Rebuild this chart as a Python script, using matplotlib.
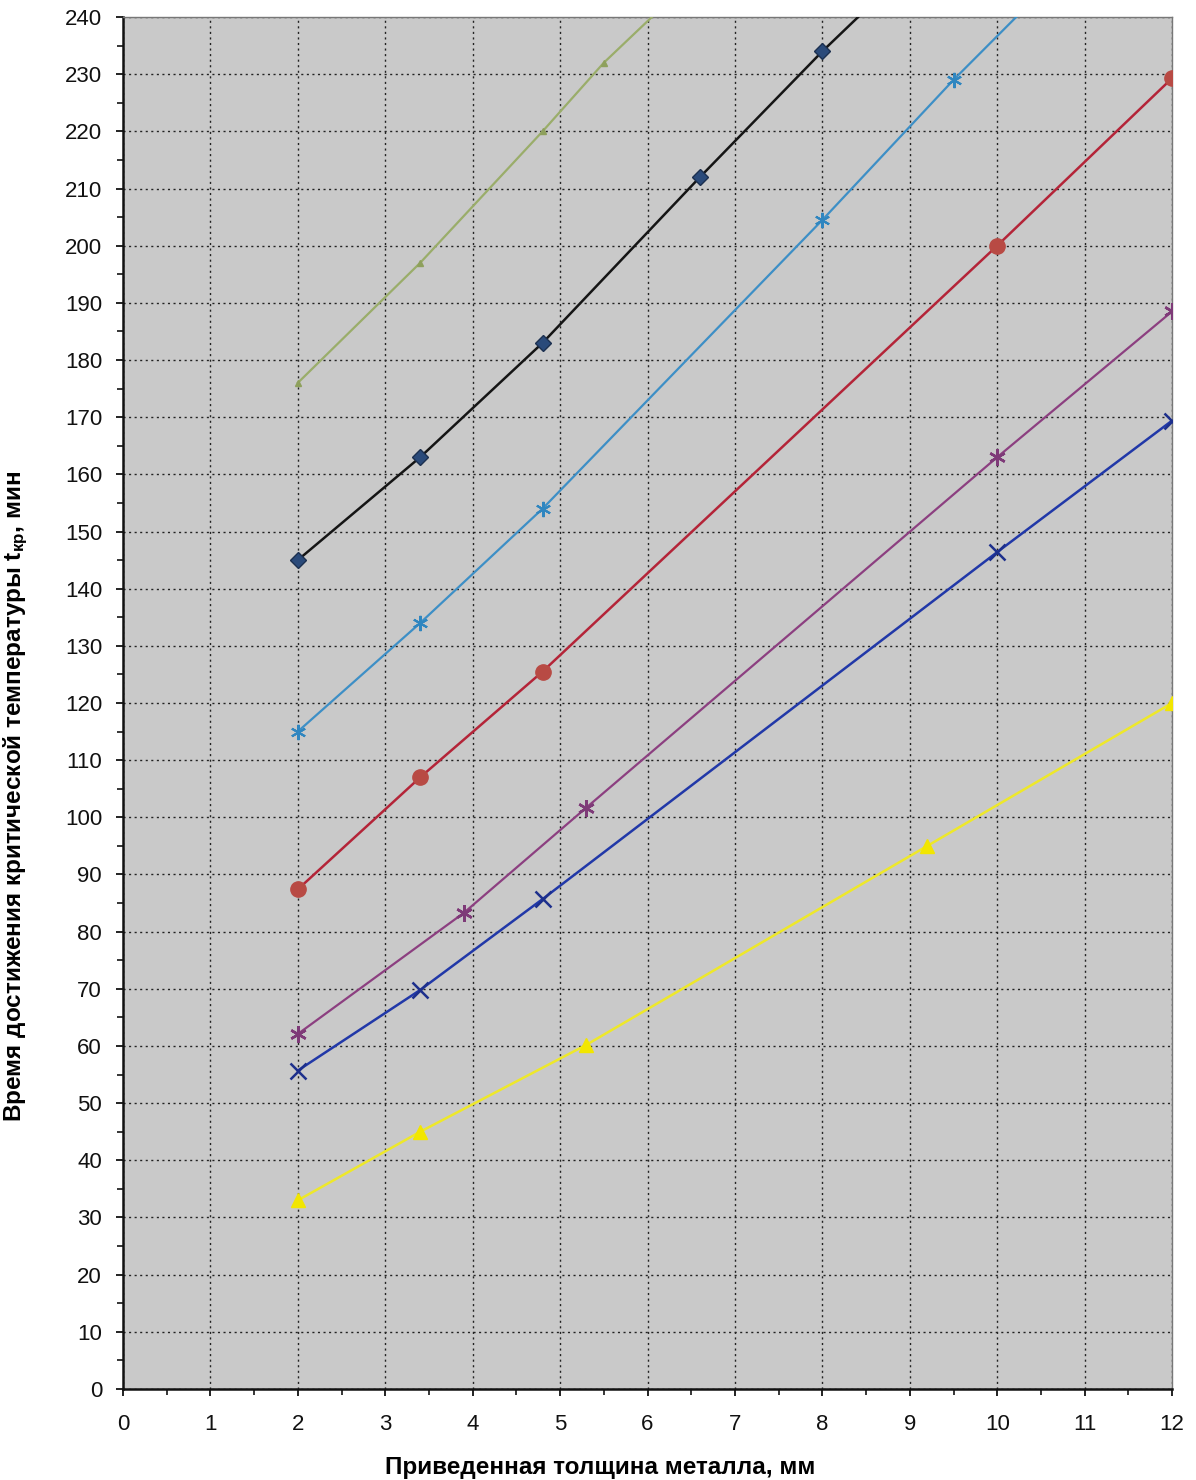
import matplotlib
matplotlib.use("Agg")
import matplotlib.pyplot as plt
from matplotlib.ticker import MultipleLocator

plt.rcParams['font.family'] = ['Liberation Sans', 'DejaVu Sans']
plt.rcParams['mathtext.fontset'] = 'custom'
plt.rcParams['mathtext.rm'] = 'Liberation Sans:bold'
plt.rcParams['mathtext.bf'] = 'Liberation Sans:bold'

# ---- data ----
green_x = [2, 3.4, 4.8, 5.5, 6.6]
green_y = [176, 197, 220, 232, 248]

black_x = [2, 3.4, 4.8, 6.6, 8, 9.5]
black_y = [145, 163, 183, 212, 234, 256]

lblue_x = [2, 3.4, 4.8, 8, 9.5, 11]
lblue_y = [115, 134, 154, 204.5, 229, 252]

red_x = [2, 3.4, 4.8, 10, 12]
red_y = [87.4, 107, 125.5, 200, 229.3]

purple_x = [2, 3.9, 5.3, 10, 12]
purple_y = [62.1, 83.3, 101.7, 163, 188.5]

navy_x = [2, 3.4, 4.8, 10, 12]
navy_y = [55.7, 69.8, 85.7, 146.4, 169.4]

yellow_x = [2, 3.4, 5.3, 9.2, 12]
yellow_y = [33, 45, 60.2, 95, 120]

x_ticks = list(range(0, 13))
y_ticks = list(range(0, 241, 10))
x_label = 'Приведенная толщина металла, мм'
y_label = r'Время достижения критической температуры $\mathregular{t_{кр}}$, мин'

fig = plt.figure(figsize=(11.96, 14.8), dpi=100)
ax = fig.add_axes([0.1028, 0.0615, 0.8772, 0.927])
ax.set_facecolor('#c9c9c9')

ax.plot(green_x, green_y, color='#9aad6a', lw=1.6, marker='^', ms=4,
        mfc='#8ea05c', mec='#8ea05c', zorder=3)
ax.plot(black_x, black_y, color='#151515', lw=1.8, marker='D', ms=8,
        mfc='#2a4a7a', mec='#1c3050', zorder=3)
ax.plot(lblue_x, lblue_y, color='#3d8fc6', lw=1.6, marker=(6, 2, 0), ms=11,
        mec='#2f86c0', mew=1.5, zorder=3)
ax.plot(red_x, red_y, color='#b42438', lw=1.8, marker='o', ms=11,
        mfc='#b84a44', mec='#b84a44', zorder=3)
ax.plot(purple_x, purple_y, color='#8c3f80', lw=1.6, marker=(6, 2, 0), ms=12,
        mec='#7e3a78', mew=1.8, zorder=3)
ax.plot(navy_x, navy_y, color='#2138a8', lw=1.8, marker='x', ms=11,
        mec='#1d2f8c', mew=1.8, zorder=3)
ax.plot(yellow_x, yellow_y, color='#eee82a', lw=1.8, marker='^', ms=10,
        mfc='#f2e600', mec='#f2e600', zorder=3)

ax.set_xlim(0, 12)
ax.set_ylim(0, 240)
ax.set_xticks(x_ticks)
ax.set_yticks(y_ticks)
ax.xaxis.set_minor_locator(MultipleLocator(0.5))
ax.yaxis.set_minor_locator(MultipleLocator(5))
ax.tick_params(axis='both', which='major', direction='out', length=5, width=1.3,
               labelsize=16, colors='#111111')
ax.tick_params(axis='both', which='minor', direction='out', length=4, width=1.1)
ax.tick_params(axis='x', pad=13)
ax.tick_params(axis='y', pad=10)

ax.grid(True, which='major', color='#222222', linestyle=(0, (1.5, 2.5)), lw=1.0, zorder=1)

for s in ['left', 'bottom']:
    ax.spines[s].set_color('#111111')
    ax.spines[s].set_linewidth(1.8)
for s in ['top', 'right']:
    ax.spines[s].set_color('#777777')
    ax.spines[s].set_linewidth(1.0)

ax.set_xlabel(x_label, fontsize=17.5, fontweight='bold')
ax.set_ylabel(y_label, fontsize=17.5, fontweight='bold')
ax.xaxis.set_label_coords(0.455, -0.0488)
ax.yaxis.set_label_coords(-0.0887, 0.432)

fig.savefig('out.png', dpi=100)
